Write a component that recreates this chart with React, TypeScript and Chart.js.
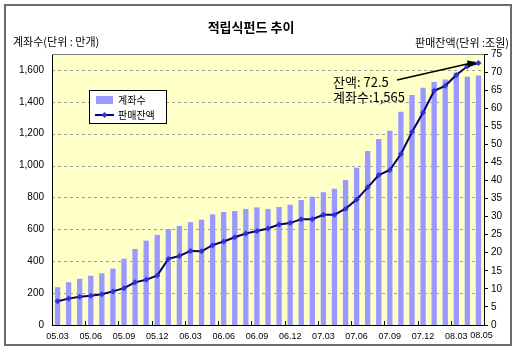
import React, { useEffect, useRef } from "react";
import { Chart, registerables } from "chart.js";

Chart.register(...registerables);

const months = [
  "05.03", "05.04", "05.05", "05.06", "05.07", "05.08", "05.09", "05.10", "05.11", "05.12",
  "06.01", "06.02", "06.03", "06.04", "06.05", "06.06", "06.07", "06.08", "06.09", "06.10", "06.11", "06.12",
  "07.01", "07.02", "07.03", "07.04", "07.05", "07.06", "07.07", "07.08", "07.09", "07.10", "07.11", "07.12",
  "08.01", "08.02", "08.03", "08.04", "08.05",
];

// 계좌수 (만개)
const accounts = [
  237, 268, 290, 309, 324, 354, 416, 477, 529, 565,
  602, 621, 645, 661, 694, 709, 715, 728, 738, 728, 740, 755,
  784, 804, 833, 855, 910, 987, 1092, 1167, 1218, 1337, 1443, 1488,
  1525, 1540, 1582, 1558, 1565,
];

// 판매잔액 (조원)
const balance = [
  6.6, 7.3, 7.8, 8.1, 8.5, 9.3, 10.2, 11.8, 12.5, 13.7,
  18.3, 19.1, 20.5, 20.4, 22.1, 23.1, 24.3, 25.3, 26.0, 26.7, 27.8, 28.2,
  29.3, 29.3, 30.5, 30.5, 32.2, 34.7, 38.1, 41.5, 42.9, 47.3, 53.4, 58.8,
  64.8, 66.2, 69.2, 71.6, 72.5,
];

const leftTicks = [0, 200, 400, 600, 800, 1000, 1200, 1400, 1600];
const shownLabelIdx = [0, 3, 6, 9, 12, 15, 18, 21, 24, 27, 30, 33, 36];
const lastLabelIdx = 38;

const TITLE = "적립식펀드 추이";
const LEFT_TITLE = "계좌수(단위 : 만개)";
const RIGHT_TITLE = "판매잔액(단위 :조원)";
const SERIES_BAR = "계좌수";
const SERIES_LINE = "판매잔액";
const NOTE1 = "잔액: 72.5";
const NOTE2 = "계좌수:1,565";

const KR = "'Noto Sans CJK KR', 'Noto Sans', sans-serif";
const NUM = "'Liberation Sans', Arial, sans-serif";
const BAR_COLOR = "#9999FF";
const LINE_COLOR = "#000080";
const POINT_COLOR = "#3333CC";

const decorPlugin = {
  id: "decor",
  beforeDraw(chart: any) {
    const { ctx, chartArea: a, width, height } = chart;
    ctx.save();
    ctx.fillStyle = "#ffffff";
    ctx.fillRect(0, 0, width, height);
    ctx.fillStyle = "#FFFFC8";
    ctx.fillRect(a.left, a.top, a.right - a.left, a.bottom - a.top);
    const y = chart.scales.y;
    ctx.strokeStyle = "#A0A0A0";
    ctx.lineWidth = 1;
    ctx.setLineDash([3, 3]);
    leftTicks.forEach((v) => {
      if (v === 0) return;
      const py = Math.round(y.getPixelForValue(v)) + 0.5;
      ctx.beginPath();
      ctx.moveTo(a.left, py);
      ctx.lineTo(a.right, py);
      ctx.stroke();
    });
    ctx.setLineDash([]);
    ctx.restore();
  },
  afterDraw(chart: any) {
    const { ctx, chartArea: a } = chart;
    const x = chart.scales.x;
    const y1 = chart.scales.y1;
    ctx.save();
    ctx.strokeStyle = "#808080";
    ctx.lineWidth = 1;
    ctx.beginPath();
    ctx.moveTo(a.left, a.top + 0.5);
    ctx.lineTo(a.right, a.top + 0.5);
    ctx.stroke();

    ctx.strokeStyle = "#000";
    for (let k = 3; k < months.length; k += 3) {
      const px = Math.round((x.getPixelForValue(k - 1) + x.getPixelForValue(k)) / 2) + 0.5;
      ctx.beginPath();
      ctx.moveTo(px, a.bottom);
      ctx.lineTo(px, a.bottom - 4);
      ctx.stroke();
    }

    // last x label, nudged right like the original
    ctx.fillStyle = "#000";
    ctx.font = `9px ${NUM}`;
    ctx.textAlign = "center";
    ctx.textBaseline = "top";
    ctx.fillText(months[lastLabelIdx], x.getPixelForValue(lastLabelIdx) + 3, a.bottom + 6);

    ctx.strokeStyle = "#6b6b6b";
    ctx.lineWidth = 2;
    ctx.strokeRect(5, 5, 506, 340);

    ctx.fillStyle = "#000";
    ctx.textBaseline = "middle";
    ctx.textAlign = "center";
    ctx.font = `bold 13px ${KR}`;
    ctx.fillText(TITLE, 251, 27);
    ctx.font = `11px ${KR}`;
    ctx.textAlign = "left";
    ctx.fillText(LEFT_TITLE, 13, 42);
    ctx.textAlign = "right";
    ctx.fillText(RIGHT_TITLE, 509, 43);

    ctx.fillStyle = "#fff";
    ctx.fillRect(89, 90, 77, 33);
    ctx.strokeStyle = "#000";
    ctx.lineWidth = 1;
    ctx.strokeRect(89.5, 90.5, 77, 33);
    ctx.fillStyle = BAR_COLOR;
    ctx.fillRect(96, 96, 17, 8);
    ctx.strokeStyle = LINE_COLOR;
    ctx.lineWidth = 2;
    ctx.beginPath();
    ctx.moveTo(95, 115);
    ctx.lineTo(114, 115);
    ctx.stroke();
    ctx.fillStyle = POINT_COLOR;
    ctx.beginPath();
    ctx.moveTo(104.5, 112);
    ctx.lineTo(107.5, 115);
    ctx.lineTo(104.5, 118);
    ctx.lineTo(101.5, 115);
    ctx.closePath();
    ctx.fill();
    ctx.fillStyle = "#000";
    ctx.textAlign = "left";
    ctx.font = `10px ${KR}`;
    ctx.fillText(SERIES_BAR, 118, 100);
    ctx.fillText(SERIES_LINE, 118, 115);

    ctx.font = `13px ${KR}`;
    ctx.fillText(NOTE1, 333, 82);
    ctx.fillText(NOTE2, 333, 97);
    const last = balance.length - 1;
    const ex = x.getPixelForValue(last) - 2;
    const ey = y1.getPixelForValue(balance[last]) - 1;
    const sx = 397;
    const sy = 80;
    ctx.strokeStyle = "#000";
    ctx.lineWidth = 1.5;
    ctx.beginPath();
    ctx.moveTo(sx, sy);
    ctx.lineTo(ex - 6, ey + 1.2);
    ctx.stroke();
    const ang = Math.atan2(ey - sy, ex - sx);
    ctx.fillStyle = "#000";
    ctx.beginPath();
    ctx.moveTo(ex, ey);
    ctx.lineTo(ex - 9 * Math.cos(ang) + 3.5 * Math.sin(ang), ey - 9 * Math.sin(ang) - 3.5 * Math.cos(ang));
    ctx.lineTo(ex - 9 * Math.cos(ang) - 3.5 * Math.sin(ang), ey - 9 * Math.sin(ang) + 3.5 * Math.cos(ang));
    ctx.closePath();
    ctx.fill();
    ctx.restore();
  },
};

export default function App() {
  const ref = useRef<HTMLCanvasElement | null>(null);
  useEffect(() => {
    if (!ref.current) return;
    const chart = new Chart(ref.current, {
      type: "bar",
      data: {
        labels: months,
        datasets: [
          {
            type: "line",
            label: SERIES_LINE,
            data: balance,
            yAxisID: "y1",
            borderColor: LINE_COLOR,
            borderWidth: 2,
            pointStyle: "rectRot",
            pointRadius: 3,
            pointBackgroundColor: POINT_COLOR,
            pointBorderColor: POINT_COLOR,
            pointBorderWidth: 0,
            tension: 0,
            order: 1,
          } as any,
          {
            type: "bar",
            label: SERIES_BAR,
            data: accounts,
            yAxisID: "y",
            backgroundColor: BAR_COLOR,
            categoryPercentage: 1,
            barPercentage: 0.48,
            order: 2,
          },
        ],
      },
      options: {
        responsive: false,
        animation: false,
        layout: { padding: { top: 54, left: 0, right: 0, bottom: 0 } },
        plugins: {
          legend: { display: false },
          title: { display: false },
          tooltip: { enabled: false },
        },
        scales: {
          x: {
            type: "category",
            offset: true,
            grid: { display: false, drawTicks: false },
            border: { display: true, color: "#000", width: 1 },
            ticks: {
              autoSkip: false,
              maxRotation: 0,
              minRotation: 0,
              padding: 6,
              color: "#000",
              font: { family: NUM, size: 9 },
              callback: (_v: any, i: number) => (shownLabelIdx.includes(i) ? months[i] : ""),
            },
            afterFit: (s: any) => {
              s.height = 27;
            },
          },
          y: {
            position: "left",
            min: 0,
            max: 1700,
            grid: { display: false, drawTicks: false },
            border: { display: true, color: "#000", width: 1 },
            ticks: {
              stepSize: 200,
              padding: 8,
              color: "#000",
              font: { family: NUM, size: 10 },
              callback: (v: any) => Number(v).toLocaleString("en-US"),
            },
            afterBuildTicks: (s: any) => {
              s.ticks = leftTicks.map((v) => ({ value: v }));
            },
            afterFit: (s: any) => {
              s.width = 52;
            },
          },
          y1: {
            position: "right",
            min: 0,
            max: 75,
            grid: { drawOnChartArea: false, drawTicks: true, tickLength: 4, color: "#000" },
            border: { display: true, color: "#000", width: 1 },
            ticks: {
              stepSize: 5,
              padding: 3,
              color: "#000",
              font: { family: NUM, size: 10 },
            },
            afterFit: (s: any) => {
              s.width = 33;
            },
          },
        },
      },
      plugins: [decorPlugin],
    });
    return () => chart.destroy();
  }, []);
  return (
    <div style={{ position: "absolute", left: 0, top: 0, width: 517, height: 352, background: "#fff" }}>
      <canvas ref={ref} width={517} height={352} />
    </div>
  );
}
